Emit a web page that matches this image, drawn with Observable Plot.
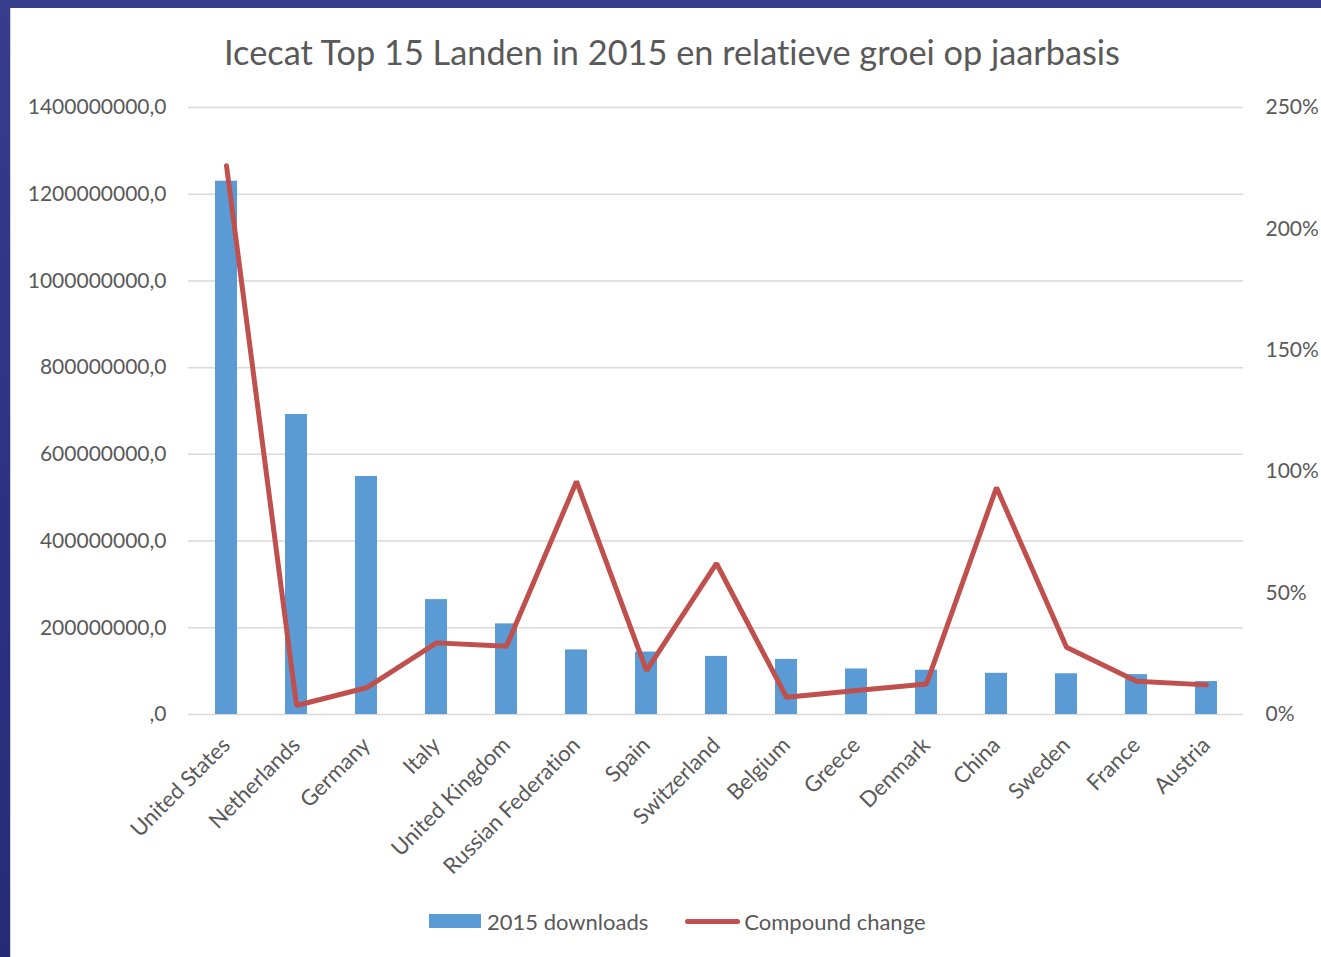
<!DOCTYPE html>
<html>
<head>
<meta charset="utf-8">
<script src="https://cdn.jsdelivr.net/npm/d3@7"></script>
<script src="https://cdn.jsdelivr.net/npm/@observablehq/plot@0.6"></script>
<style>
  html, body { margin: 0; padding: 0; }
  body {
    width: 1321px; height: 957px; position: relative; overflow: hidden;
    background: linear-gradient(180deg, #353d8c 0%, #2b3382 50%, #242c7a 100%);
    font-family: Lato, "Open Sans", sans-serif;
    font-variant-ligatures: none;
  }
  #panel {
    position: absolute; left: 10px; top: 8px; width: 1311px; height: 949px;
    background: #ffffff; border-left: 1px solid #d0d0d0; box-sizing: border-box;
  }
  #title {
    position: absolute; left: 0; top: 31px; width: 1344px; text-align: center;
    font-size: 34.3px; color: #595959; line-height: 42px;
  }
  #chart { position: absolute; left: 10px; top: 80px; }
  #chart svg text { font-variant-ligatures: none; }
  #legend {
    position: absolute; top: 907px; left: 429px; height: 28px;
    display: flex; align-items: center; font-size: 22px; color: #595959;
  }
  .sw-bar { width: 52px; height: 14px; background: #5b9bd5; margin-right: 6px; }
  .sw-line { width: 55px; height: 5px; border-radius: 3px; background: #c0504d; margin-right: 4px; margin-left: 37px; }
</style>
</head>
<body>
<div id="panel"></div>
<div id="title">Icecat Top 15 Landen in 2015 en relatieve groei op jaarbasis</div>
<div id="chart"></div>
<div id="legend">
  <div class="sw-bar"></div><span>2015 downloads</span>
  <div class="sw-line"></div><span>Compound change</span>
</div>
<script>
const countries = ["United States","Netherlands","Germany","Italy","United Kingdom","Russian Federation","Spain","Switzerland","Belgium","Greece","Denmark","China","Sweden","France","Austria"];
const downloads = [1230e6, 692e6, 549e6, 265e6, 209e6, 149e6, 144e6, 134e6, 127e6, 105e6, 102e6, 95e6, 94e6, 92e6, 76e6];
const compoundChange = [226, 3.7, 11, 29.5, 28.1, 96, 18.1, 62.2, 7.1, 9.9, 12.6, 93.5, 27.7, 13.7, 12.2];
const leftTicks = [0, 200e6, 400e6, 600e6, 800e6, 1000e6, 1200e6, 1400e6];
const rightTicks = [0, 50, 100, 150, 200, 250];

const leftMax = 1400e6, rightMax = 250;
const toLeft = p => p / rightMax * leftMax;

const data = countries.map((c, i) => ({country: c, downloads: downloads[i], change: compoundChange[i]}));

const chart = Plot.plot({
  width: 1311,
  height: 800,
  marginTop: 27,
  marginBottom: 166,
  marginLeft: 178,
  marginRight: 78,
  style: {fontFamily: "Lato, 'Open Sans', sans-serif", fontSize: "21px", color: "#595959", background: "transparent"},
  x: {domain: countries, paddingInner: 0.687, paddingOuter: 0.3435},
  y: {domain: [0, leftMax]},
  marks: [
    Plot.ruleY(leftTicks, {stroke: "#d9d9d9", strokeWidth: 1.5}),
    Plot.barY(data, {x: "country", y: "downloads", fill: "#5b9bd5"}),
    Plot.line(data, {x: "country", y: d => toLeft(d.change), stroke: "#c0504d", strokeWidth: 5, strokeLinecap: "round", strokeLinejoin: "miter"}),
    Plot.axisY(leftTicks, {anchor: "left", tickSize: 0, tickPadding: 22, tickFormat: d => d === 0 ? ",0" : d + ",0", label: null, fill: "#595959"}),
    Plot.axisY(rightTicks.map(toLeft), {anchor: "right", tickSize: 0, tickPadding: 22, tickFormat: d => Math.round(d / leftMax * rightMax) + "%", label: null, fill: "#595959"}),
    Plot.axisX({tickSize: 0, tickPadding: 27, tickRotate: -45, label: null, fill: "#595959", fontSize: 22})
  ]
});
document.getElementById("chart").appendChild(chart);
</script>
</body>
</html>
